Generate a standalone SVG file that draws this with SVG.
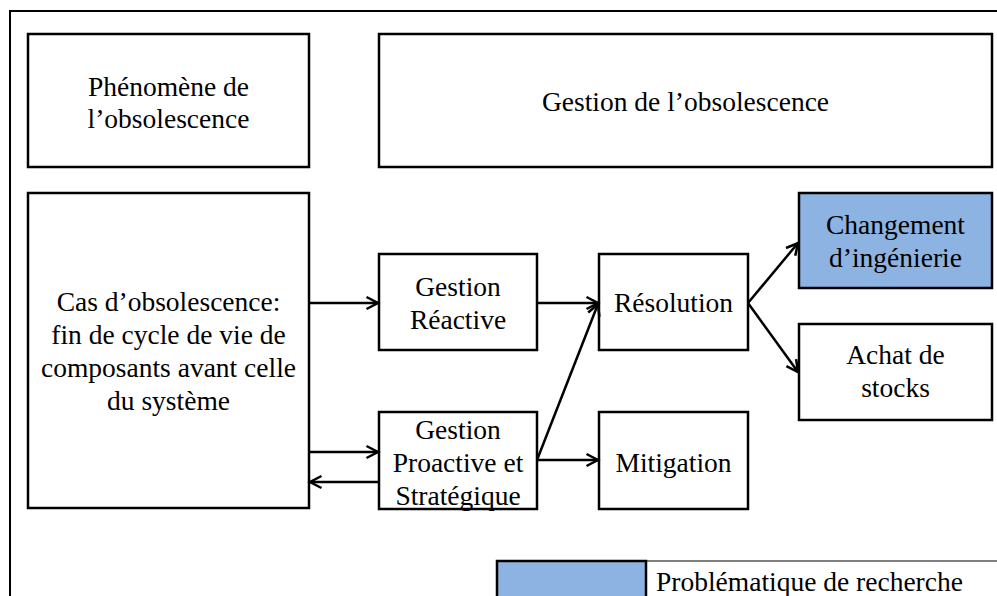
<svg xmlns="http://www.w3.org/2000/svg" width="997" height="596" viewBox="0 0 997 596">
<style>
.box{fill:#fff;stroke:#000;stroke-width:2.5}
.hl{fill:#8DB3E2;stroke:#000;stroke-width:2.5}
.t{font-family:"Liberation Serif","Times New Roman",serif;font-size:27.5px;fill:#000;text-anchor:middle}
.c{stroke:#000;stroke-width:2.5;fill:none;marker-end:url(#ah)}
</style>
<defs>
<marker id="ah" markerUnits="userSpaceOnUse" markerWidth="16" markerHeight="16" refX="13" refY="8" orient="auto">
<path d="M1.5,2 L13,8 L1.5,14" fill="none" stroke="#000" stroke-width="2.5"/>
</marker>
</defs>
<rect width="997" height="596" fill="#fff"/>
<path d="M10,596 L10,11 L997,11" fill="none" stroke="#000" stroke-width="2"/>
<g id="phenomene"><rect class="box" x="28" y="34" width="281" height="133"/>
<text class="t" x="168.5" y="96">Phénomène de</text><text class="t" x="168.5" y="128">l’obsolescence</text></g>
<g id="gestion"><rect class="box" x="379" y="34" width="613" height="133"/>
<text class="t" x="685.5" y="111">Gestion de l’obsolescence</text></g>
<g id="cas"><rect class="box" x="28" y="193" width="281" height="315"/>
<text class="t" x="168.5" y="311">Cas d’obsolescence:</text>
<text class="t" x="168.5" y="344">fin de cycle de vie de</text>
<text class="t" x="168.5" y="377">composants avant celle</text>
<text class="t" x="168.5" y="410">du système</text></g>
<g id="reactive"><rect class="box" x="379" y="254" width="158" height="96"/>
<text class="t" x="458" y="296">Gestion</text><text class="t" x="458" y="329">Réactive</text></g>
<g id="proactive"><rect class="box" x="379" y="412" width="158" height="97"/>
<text class="t" x="458" y="439">Gestion</text><text class="t" x="458" y="472">Proactive et</text><text class="t" x="458" y="505">Stratégique</text></g>
<g id="resolution"><rect class="box" x="599" y="254" width="149" height="96"/>
<text class="t" x="673.5" y="312">Résolution</text></g>
<g id="mitigation"><rect class="box" x="599" y="412" width="149" height="97"/>
<text class="t" x="673.5" y="472">Mitigation</text></g>
<g id="changement"><rect class="hl" x="799" y="193" width="193" height="95"/>
<text class="t" x="895.5" y="234">Changement</text><text class="t" x="895.5" y="267">d’ingénierie</text></g>
<g id="achat"><rect class="box" x="799" y="324" width="193" height="96"/>
<text class="t" x="895.5" y="364">Achat de</text><text class="t" x="895.5" y="397">stocks</text></g>
<g id="connectors">
<line class="c" x1="309" y1="303" x2="378" y2="303"/>
<line class="c" x1="537" y1="303" x2="598" y2="303"/>
<line class="c" x1="309" y1="452" x2="378" y2="452"/>
<line class="c" x1="379" y1="482" x2="310" y2="482"/>
<line class="c" x1="537" y1="460" x2="598" y2="304"/>
<line class="c" x1="537" y1="460" x2="598" y2="460"/>
<line class="c" x1="748" y1="303" x2="798" y2="243"/>
<line class="c" x1="748" y1="303" x2="798" y2="372"/>
</g>
<g id="legend"><rect class="hl" x="497" y="561" width="149" height="45"/>
<line x1="646" y1="561" x2="997" y2="561" stroke="#000" stroke-width="1"/>
<text class="t" x="656" y="591" style="text-anchor:start">Problématique de recherche</text></g>
</svg>
